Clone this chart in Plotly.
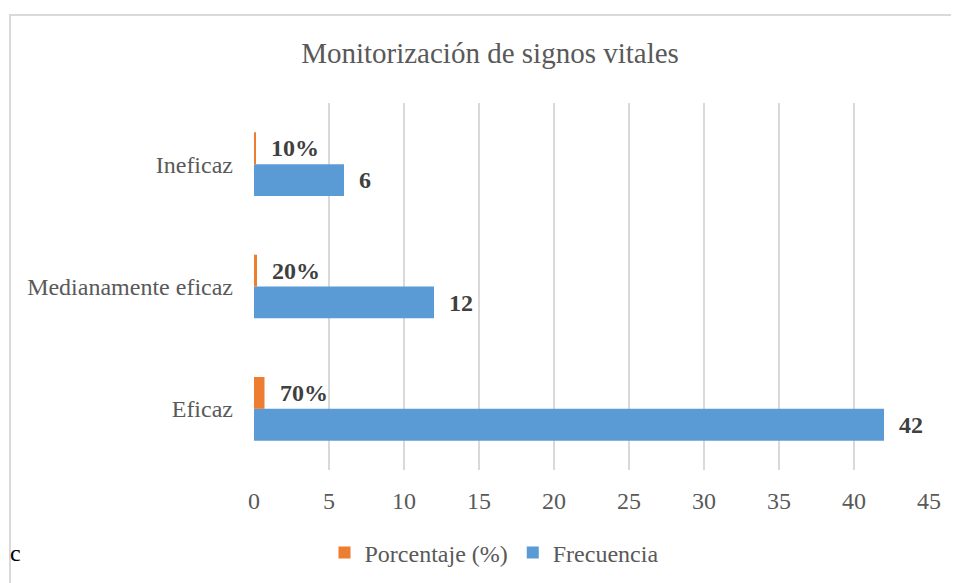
import plotly.graph_objects as go

# data
categorias = ["Eficaz", "Medianamente eficaz", "Ineficaz"]
frecuencia = [42, 12, 6]
porcentaje = [0.7, 0.2, 0.1]
etiquetas_pct = ["70%", "20%", "10%"]
x_ticks = [0, 5, 10, 15, 20, 25, 30, 35, 40, 45]

BLUE = "#5B9BD5"
ORANGE = "#ED7D31"
GRID = "#D9D9D9"
SERIF = "Liberation Serif, Times New Roman, serif"

# page body has an 8px margin, so the figure is shrunk to fit the window
W, H = 951, 575

fig = go.Figure()
fig.add_trace(go.Bar(
    y=categorias, x=frecuencia, orientation="h", name="Frecuencia",
    marker={"color": BLUE, "line": {"width": 0}}, legendrank=2,
))
fig.add_trace(go.Bar(
    y=categorias, x=porcentaje, orientation="h", name="Porcentaje (%)",
    marker={"color": ORANGE, "line": {"width": 0}}, legendrank=1,
))

# data labels
for cat, v in zip(categorias, frecuencia):
    fig.add_annotation(x=v, y=cat, text=f"<b>{v}</b>", showarrow=False,
                       xanchor="left", xshift=13, yshift=-16,
                       font={"family": SERIF, "size": 24, "color": "#404040"})
for cat, v, t in zip(categorias, porcentaje, etiquetas_pct):
    fig.add_annotation(x=v, y=cat, text=f"<b>{t}</b>", showarrow=False,
                       xanchor="left", xshift=13, yshift=16,
                       font={"family": SERIF, "size": 24, "color": "#404040"})

# chart border (extends off canvas right/bottom like the source crop)
fig.add_shape(type="rect", xref="paper", yref="paper",
              x0=(10 - 254) / 675, x1=(975 - 254) / 675,
              y0=(470 - 600) / 367, y1=1 + (103 - 15) / 367,
              line={"color": GRID, "width": 2}, layer="below")

# stray clipped letter from the document at the left edge
fig.add_annotation(xref="paper", yref="paper", x=(8 - 254) / 675, y=(470 - 553) / 367,
                   text="c", showarrow=False, xanchor="left", yanchor="middle",
                   font={"family": SERIF, "size": 24, "color": "#000000"})

fig.update_layout(
    width=W, height=H,
    margin={"l": 246, "r": 30, "t": 95, "b": 113},
    paper_bgcolor="white", plot_bgcolor="white",
    barmode="group", bargap=0.48, bargroupgap=0,
    title={"text": "Monitorización de signos vitales", "x": (490 - 8) / W, "xanchor": "center",
           "y": 1 - 45 / H, "yanchor": "middle",
           "font": {"family": SERIF, "size": 29, "color": "#595959"}},
    font={"family": SERIF, "size": 24, "color": "#595959"},
    legend={"orientation": "h", "xref": "container", "yref": "container",
            "x": (494 - 8) / W, "xanchor": "center", "y": 30 / H, "yanchor": "middle",
            "font": {"family": SERIF, "size": 24, "color": "#595959"},
            "itemwidth": 30},
    showlegend=True,
)
fig.update_xaxes(range=[0, 45], tickvals=x_ticks, showgrid=True, gridcolor=GRID,
                 gridwidth=2, zeroline=False, showline=False,
                 ticks="", ticklabelstandoff=14,
                 tickfont={"family": SERIF, "size": 24, "color": "#595959"})
fig.update_yaxes(range=[-0.5, 2.5], showgrid=False, zeroline=False, showline=False,
                 ticks="", ticklabelstandoff=20,
                 tickfont={"family": SERIF, "size": 24, "color": "#595959"})

fig.write_html("out.html")
